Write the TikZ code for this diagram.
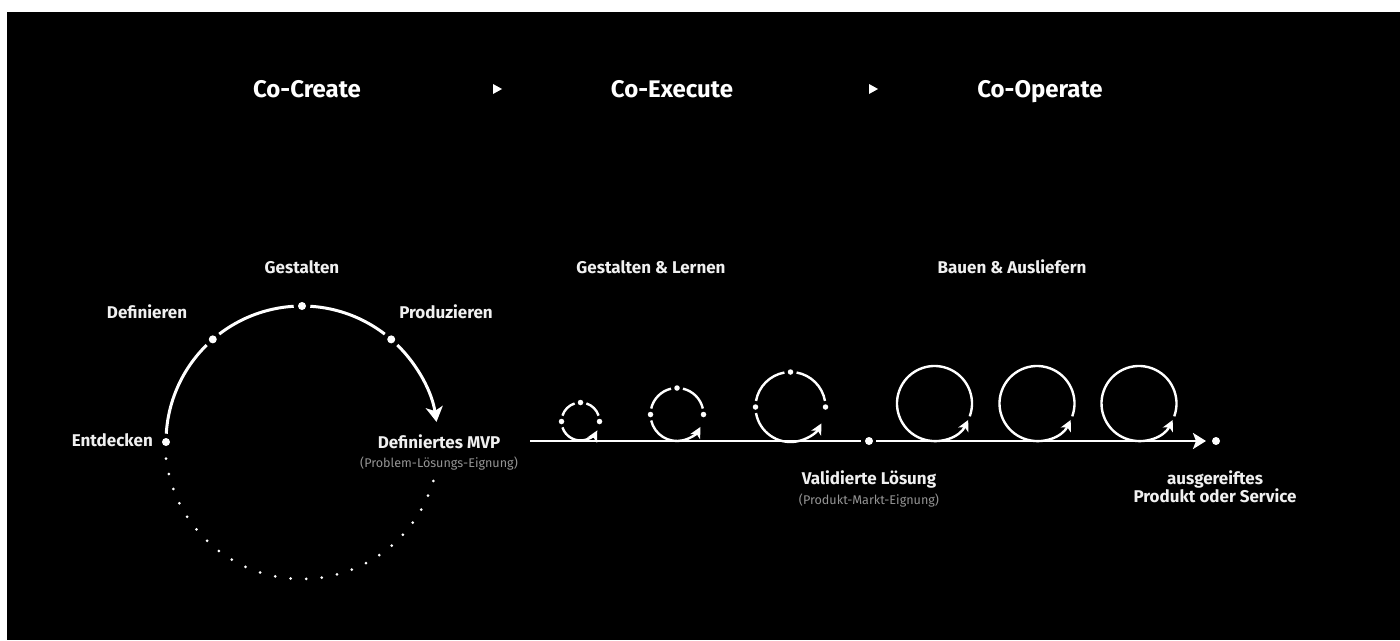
\documentclass[tikz,border=0pt]{standalone}
\usepackage{fontspec}
\setmainfont{Fira Sans}
\usetikzlibrary{arrows.meta}
\definecolor{ink}{HTML}{F0F0F0}
\definecolor{subgrey}{HTML}{959595}
\begin{document}
\begin{tikzpicture}[x=1pt,y=1pt,
  head/.style={text=white,inner sep=0,anchor=base,font=\bfseries\fontsize{24}{28}\selectfont},
  lbl/.style={text=ink,inner sep=0,anchor=base,font=\bfseries\fontsize{17}{20}\selectfont},
  sub/.style={text=subgrey,inner sep=0,anchor=base,font=\fontsize{12.6}{15}\selectfont},
  dot/.style={circle,fill=white,inner sep=0,minimum size=8pt},
  smalldot/.style={circle,fill=white,inner sep=0,minimum size=5.5pt},
  tinydot/.style={circle,fill=white,inner sep=0,minimum size=3pt},
  arcline/.style={draw=white,line width=3pt},
  flowline/.style={draw=white,line width=2.6pt},
  loopline/.style={draw=white,line width=2.4pt},
  bigtip/.style={-{Stealth[length=15pt,width=17pt,inset=4pt]}},
  flowtip/.style={-{Stealth[length=13pt,width=16pt,inset=3pt]}},
  looptip/.style={-{Stealth[length=11pt,width=11pt,inset=3pt]}}
]
\useasboundingbox (0,0) rectangle (1400,-640);
\fill[white] (0,0) rectangle (1400,-640);
\fill[black] (7,-12) rectangle (1400,-640);

% phase headers
\node[head] (cocreate) at (307,-97) {Co-Create};
\node[head] (coexecute) at (672,-97) {Co-Execute};
\node[head] (cooperate) at (1040,-97) {Co-Operate};
\coordinate (tri1) at (497,-89);
\coordinate (tri2) at (873,-89);
\foreach \t in {tri1,tri2}
  \fill[white] ([shift={(-4,5)}]\t) -- ([shift={(5,0)}]\t) -- ([shift={(-4,-5)}]\t) -- cycle;

% discovery cycle
\coordinate (bc) at (302,-442);
\node[dot] (entdecken) at ([shift={(180:136)}]bc) {};
\node[dot] (definieren) at ([shift={(131:136)}]bc) {};
\node[dot] (gestalten) at ([shift={(90:136)}]bc) {};
\node[dot] (produzieren) at ([shift={(49:136)}]bc) {};
\draw[arcline] ([shift={(176.5:136)}]bc) arc[start angle=176.5,end angle=134.5,radius=136];
\draw[arcline] ([shift={(127.5:136)}]bc) arc[start angle=127.5,end angle=93.5,radius=136];
\draw[arcline] ([shift={(86.5:136)}]bc) arc[start angle=86.5,end angle=52.5,radius=136];
\draw[arcline,bigtip] ([shift={(45.5:136)}]bc) arc[start angle=45.5,end angle=8.5,radius=136];
\foreach \i in {0,...,24}{
  \pgfmathsetmacro\a{-173+6.52*\i}
  \node[tinydot] (back\i) at ([shift={(\a:137)}]bc) {};
}
\node[lbl] (lgestalten) at (302,-273) {Gestalten};
\node[lbl] (ldefinieren) at (147,-318) {Definieren};
\node[lbl] (lproduzieren) at (446,-318) {Produzieren};
\node[lbl,anchor=base east] (lentdecken) at (153,-446) {Entdecken};
\node[lbl] (lmvp) at (439,-448.5) {Definiertes MVP};
\node[sub] (lpls) at (439,-467) {(Problem-Lösungs-Eignung)};

% delivery line
\coordinate (linestart) at (530,-441);
\node[dot] (validiert) at (869,-441) {};
\node[dot] (reif) at (1216,-441) {};
\draw[flowline,shorten >=8pt] (linestart) -- (validiert.center);
\draw[flowline,flowtip,shorten <=7pt,shorten >=10pt] (validiert.center) -- (reif.center);

% learning loops with stage markers
\foreach \cx/\cy/\r/\g [count=\k] in {580.5/-421.5/19/18, 677/-414.5/26.5/13, 790.5/-407/35/10}{
  \coordinate (lc\k) at (\cx,\cy);
  \node[smalldot] (lr\k) at ([shift={(0:\r)}]lc\k) {};
  \node[smalldot] (lt\k) at ([shift={(90:\r)}]lc\k) {};
  \node[smalldot] (ll\k) at ([shift={(180:\r)}]lc\k) {};
  \draw[loopline] ([shift={(\g:\r)}]lc\k) arc[start angle=\g,end angle=90-\g,radius=\r];
  \draw[loopline] ([shift={(90+\g:\r)}]lc\k) arc[start angle=90+\g,end angle=180-\g,radius=\r];
  \draw[loopline,looptip] ([shift={(180+\g:\r)}]lc\k) arc[start angle=180+\g,end angle=332,radius=\r];
}

% build loops
\foreach \cx [count=\k] in {934.5,1037,1139}{
  \coordinate (bl\k) at (\cx,-403.5);
  \draw[loopline,looptip] ([shift={(-20:37.5)}]bl\k) arc[start angle=-20,end angle=334,radius=37.5];
}

\node[lbl] (lgl) at (651,-273) {Gestalten \& Lernen};
\node[lbl] (lba) at (1012,-273) {Bauen \& Ausliefern};
\node[lbl] (lval) at (869,-484) {Validierte Lösung};
\node[sub] (lpme) at (869,-504) {(Produkt-Markt-Eignung)};
\node[lbl] (lreif1) at (1215,-484) {ausgereiftes};
\node[lbl] (lreif2) at (1215,-502) {Produkt oder Service};
\end{tikzpicture}
\end{document}
